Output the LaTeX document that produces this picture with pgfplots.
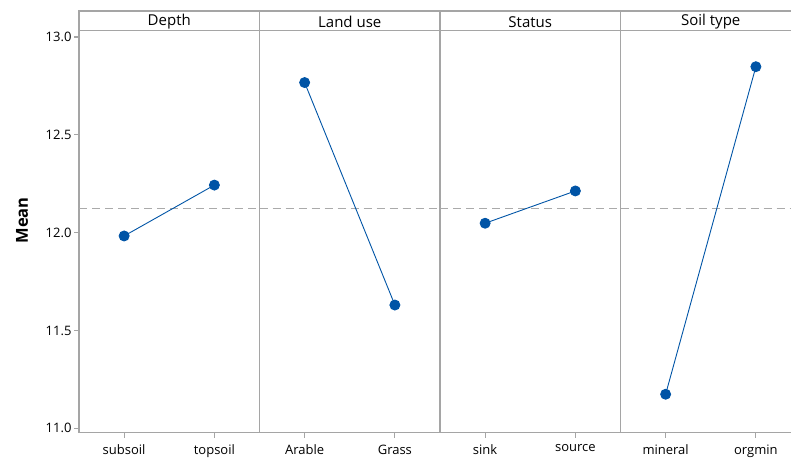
\documentclass[border=0pt]{standalone}
\usepackage{fontspec}
\setmainfont{Open Sans}
\usepackage{pgfplots}
\pgfplotsset{compat=1.18}
\definecolor{ptc}{RGB}{0,84,166}
\definecolor{axc}{RGB}{165,165,165}
\definecolor{refc}{RGB}{170,170,170}
\tikzset{hdr/.style={font=\fontsize{15}{17}\selectfont}}
\pgfplotsset{panel/.style={
  scale only axis, width=180.5pt, height=402pt,
  xmin=-0.5, xmax=1.5, ymin=10.9775, ymax=13.032,
  anchor=south west, clip=false,
  axis line style={axc, line width=1.3pt},
  xtick={0,1}, xtick pos=bottom, ytick pos=left,
  tick align=outside, major tick length=5pt,
  tick style={axc, line width=1.2pt},
  ytick={11,11.5,12,12.5,13},
  yticklabel style={/pgf/number format/fixed, /pgf/number format/fixed zerofill, /pgf/number format/precision=1, xshift=1pt},
  /pgf/number format/assume math mode=true,
  ticklabel style={font=\fontsize{13}{15}\selectfont},
  xticklabel style={yshift=-3.5pt},
},
data/.style={ptc, line width=0.9pt, mark=*, mark size=5pt, mark options={fill=ptc, draw=ptc}},
refl/.style={refc, line width=1.2pt, dash pattern=on 8pt off 5pt, forget plot},
}
\newcommand{\header}[1]{%
  \draw[axc, line width=1.3pt] (rel axis cs:0,1) rectangle ([yshift=19.7pt]rel axis cs:1,1);
  \node[hdr] at ([yshift=9pt]rel axis cs:0.5,1) {#1};}
\begin{document}
\begin{tikzpicture}
\clip (0pt,0pt) rectangle (791pt,-457pt);
\begin{axis}[panel, at={(79pt,-432.7pt)}, xticklabels={subsoil,topsoil}]
  \addplot[refl] coordinates {(-0.5,12.122) (1.5,12.122)};
  \addplot[data] coordinates {(0,11.983) (1,12.243)};
  \header{Depth}
\end{axis}
\begin{axis}[panel, at={(259.5pt,-432.7pt)}, xticklabels={Arable,Grass}, yticklabels={}, ytick style={draw=none}]
  \addplot[refl] coordinates {(-0.5,12.122) (1.5,12.122)};
  \addplot[data] coordinates {(0,12.767) (1,11.630)};
  \header{Land use}
\end{axis}
\begin{axis}[panel, at={(440pt,-432.7pt)}, xticklabels={sink,source}, yticklabels={}, ytick style={draw=none}]
  \addplot[refl] coordinates {(-0.5,12.122) (1.5,12.122)};
  \addplot[data] coordinates {(0,12.048) (1,12.213)};
  \header{Status}
\end{axis}
\begin{axis}[panel, at={(620.5pt,-432.7pt)}, xticklabels={mineral,orgmin}, yticklabels={}, ytick style={draw=none}]
  \addplot[refl] coordinates {(-0.5,12.122) (1.5,12.122)};
  \addplot[data] coordinates {(0,11.174) (1,12.848)};
  \header{Soil type}
\end{axis}
\node[rotate=90, font=\bfseries\fontsize{16.5}{18}\selectfont] at (22pt,-220.5pt) {Mean};
\end{tikzpicture}
\end{document}
